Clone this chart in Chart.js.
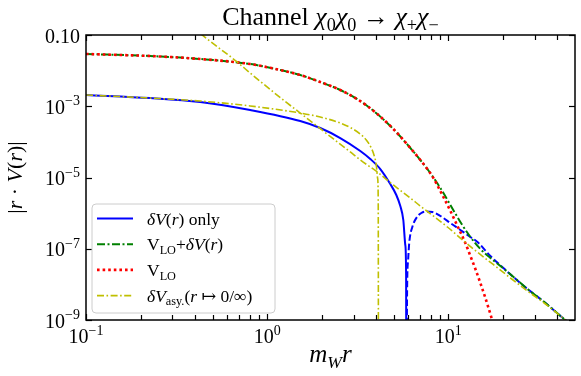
<!DOCTYPE html>
<html><head><meta charset="utf-8">
<script src="https://cdn.jsdelivr.net/npm/chart.js@4.4.1/dist/chart.umd.min.js"></script>
<style>html,body{margin:0;padding:0;background:#fff;}canvas{display:block;}</style>
</head><body>
<canvas id="c" width="581" height="376"></canvas>
<script>
// ---- data (log-log) ----
const dvX = [0.1,0.2258,0.4264,0.8055,1.522,1.963,2.531,3.265,3.707,4.210,4.780,5.161,5.430,5.641,5.786,5.846,5.861];
const dvY = [2.07e-3,1.70e-3,1.32e-3,7.85e-4,3.85e-4,2.45e-4,1.28e-4,5.54e-5,3.31e-5,1.73e-5,6.57e-6,3.23e-6,1.58e-6,6.41e-7,1.27e-7,1.83e-8,1e-12];
const dvNegX = [5.87,5.920,5.996,6.088,6.325,6.656,7.093,7.558,8.161,9.032,10.26,11.65,13.23,14.47,17.06,20.13,22.86,27.32,34.35,41.57,50];
const dvNegY = [1e-12,6.95e-9,4.83e-8,1.55e-7,4.08e-7,7.30e-7,1.01e-6,1.11e-6,1.08e-6,8.31e-7,5.28e-7,3.36e-7,2.14e-7,1.55e-7,6.26e-8,2.88e-8,1.61e-8,7.42e-9,3.00e-9,1.30e-9,5.96e-10];
const totX = [0.1,0.2258,0.4264,0.8055,1.180,1.522,1.963,2.531,3.265,4.052,4.968,6.167,7.655,9.032,10.26,11.65,13.23,15.02,17.06,19.38,22.57,27.32,34.35,41.57,50];
const totY = [2.93e-2,2.57e-2,2.12e-2,1.53e-2,1.04e-2,7.54e-3,4.79e-3,2.86e-3,1.40e-3,6.06e-4,2.30e-4,6.73e-5,1.73e-5,5.07e-6,1.69e-6,5.63e-7,2.14e-7,9.84e-8,5.50e-8,3.28e-8,1.72e-8,7.42e-9,3.00e-9,1.30e-9,5.96e-10];
const loX = [0.1,0.2258,0.4264,0.8055,1.180,1.522,1.963,2.531,3.265,4.052,4.968,6.167,7.655,8.265,9.266,10.26,11.36,12.41,13.23,14.10,15.02,16.01,17.06,18.18];
const loY = [2.93e-2,2.57e-2,2.12e-2,1.53e-2,1.04e-2,7.54e-3,4.79e-3,2.86e-3,1.40e-3,6.06e-4,2.30e-4,6.73e-5,1.73e-5,9.68e-6,3.23e-6,1.15e-6,3.82e-7,1.45e-7,6.26e-8,2.70e-8,1.09e-8,4.14e-9,1.47e-9,4.91e-10];
const asySmallX = [0.1,0.2258,0.4264,0.8055,1.522,1.963,2.531,2.874,3.265,3.524,3.755,3.901,4.001,4.068,4.101,4.115];
const asySmallY = [2.07e-3,1.70e-3,1.40e-3,1.02e-3,6.46e-4,4.99e-4,3.39e-4,2.53e-4,1.66e-4,1.13e-4,6.73e-5,4.01e-5,2.24e-5,9.68e-6,2.34e-6,1e-12];
const asyLargeX = [0.3755,0.4374,0.6828,0.8055,1.226,1.522,2.039,2.874,3.265,4.052,4.968,6.167,7.003,8.265,9.874,11.65,13.75,16.43,19.38,22.00,27.32,34.35,41.57,50];
const asyLargeY = [0.191,0.1,1.75e-2,8.58e-3,1.50e-3,6.46e-4,2.02e-4,5.20e-5,3.10e-5,1.43e-5,6.16e-6,2.66e-6,1.58e-6,8.31e-7,4.08e-7,2.00e-7,9.84e-8,4.83e-8,2.53e-8,1.51e-8,6.52e-9,2.81e-9,1.30e-9,5.96e-10];

// ---- axes / ticks ----
const xRange = [0.1, 50];
const yRange = [1e-9, 0.1];
const xMajorTicks = [0.1, 1, 10];
const xMinorTicks = [0.2,0.3,0.4,0.5,0.6,0.7,0.8,0.9,2,3,4,5,6,7,8,9,20,30,40];
const xTickLabels = [["10","−1"],["10","0"],["10","1"]];
const yMajorTicks = [1e-9, 1e-7, 1e-5, 1e-3, 0.1];
const yTickLabels = [["10","−9"],["10","−7"],["10","−5"],["10","−3"],["0.10",""]];

const COLORS = {dv:'#0000ff', tot:'#008000', lo:'#ff0000', asy:'#bfbf00'};
const FONT = "'Liberation Serif','DejaVu Serif',serif";

const pts = (xs, ys) => xs.map((x, i) => ({x, y: ys[i]}));
const base = {pointRadius:0, fill:false, cubicInterpolationMode:'monotone', borderCapStyle:'butt'};

const dsDv   = {...base, label:'dv', data:pts(dvX,dvY), borderColor:COLORS.dv, borderWidth:2, order:4};
const dsDvN  = {...base, label:'dvneg', data:pts(dvNegX,dvNegY), borderColor:COLORS.dv, borderWidth:2, borderDash:[6.5,2.8], order:4};
const dsTot  = {...base, label:'tot', data:pts(totX,totY), borderColor:COLORS.tot, borderWidth:2, borderDash:[8,2.5,2,2.5], order:3};
const dsLo   = {...base, label:'lo', data:pts(loX,loY), borderColor:COLORS.lo, borderWidth:2.6, borderDash:[2.6,3], order:2};
const dsAsyS = {...base, label:'asyS', data:pts(asySmallX,asySmallY), borderColor:COLORS.asy, borderWidth:1.6, borderDash:[7,2.5,1.6,2.5], order:1};
const dsAsyL = {...base, label:'asyL', data:pts(asyLargeX,asyLargeY), borderColor:COLORS.asy, borderWidth:1.6, borderDash:[7,2.5,1.6,2.5], order:1};

// ---- rich text helper (sub/superscripts, italics) ----
function fnt(it, sz){ return (it ? 'italic ' : '') + sz + 'px ' + FONT; }
function segW(ctx, segs, size){
  let w = 0;
  for (const [t, s] of segs){
    const small = s==='sub'||s==='sup'||s==='isub';
    ctx.font = fnt(s==='i'||s==='isub', small ? size*0.7 : size);
    w += ctx.measureText(t).width;
  }
  return w;
}
function drawRich(ctx, segs, x, y, size, align){
  const w = segW(ctx, segs, size);
  let cx = align==='center' ? x - w/2 : (align==='right' ? x - w : x);
  ctx.textAlign = 'left'; ctx.textBaseline = 'alphabetic';
  for (const [t, s] of segs){
    const small = s==='sub'||s==='sup'||s==='isub';
    ctx.font = fnt(s==='i'||s==='isub', small ? size*0.7 : size);
    let dy = 0;
    if (s==='sub'||s==='isub') dy = size*0.22;
    if (s==='sup') dy = -size*0.42;
    ctx.fillText(t, cx, y + dy);
    cx += ctx.measureText(t).width;
  }
}

const titleSegs = [['Channel ','n'],['χ','i'],['0','sub'],['χ','i'],['0','sub'],[' → ','n'],['χ','i'],['+','sub'],['χ','i'],['−','sub']];
const xLabelSegs = [['m','i'],['W','isub'],['r','i']];
const yLabelSegs = [['|','n'],['r','i'],[' · ','n'],['V','i'],['(','n'],['r','i'],[')','n'],['|','n']];
const legendItems = [
  {ds:dsDv,  segs:[['δ','i'],['V','i'],['(','n'],['r','i'],[')','n'],[' only','n']]},
  {ds:dsTot, segs:[['V','n'],['LO','sub'],['+','n'],['δ','i'],['V','i'],['(','n'],['r','i'],[')','n']]},
  {ds:dsLo,  segs:[['V','n'],['LO','sub']]},
  {ds:dsAsyL,segs:[['δ','i'],['V','i'],['asy.','sub'],['(','n'],['r','i'],[' ↦ 0/∞','n'],[')','n']]}
];

const deco = {
  id:'deco',
  afterDatasetsDraw(chart){
    const ctx = chart.ctx, a = chart.chartArea, xs = chart.scales.x, ys = chart.scales.y;
    ctx.save();
    ctx.fillStyle = '#000'; ctx.strokeStyle = '#000';
    ctx.lineWidth = 1.5;
    ctx.strokeRect(a.left, a.top, a.right - a.left, a.bottom - a.top);
    ctx.lineWidth = 1.2;
    const seg = (x1,y1,x2,y2)=>{ctx.beginPath();ctx.moveTo(x1,y1);ctx.lineTo(x2,y2);ctx.stroke();};
    for (const v of xMajorTicks){ const p = Math.round(xs.getPixelForValue(v))+0.5; seg(p,a.bottom,p,a.bottom-6); seg(p,a.top,p,a.top+6); }
    for (const v of xMinorTicks){ const p = Math.round(xs.getPixelForValue(v))+0.5; seg(p,a.bottom,p,a.bottom-5); seg(p,a.top,p,a.top+5); }
    for (const v of yMajorTicks){ const p = Math.round(ys.getPixelForValue(v))+0.5; seg(a.left,p,a.left+6,p); seg(a.right,p,a.right-6,p); }
    xMajorTicks.forEach((v,i)=>{
      const p = xs.getPixelForValue(v);
      drawRich(ctx, [[xTickLabels[i][0],'n'],[xTickLabels[i][1],'sup']], p, a.bottom + 23, 20, 'center');
    });
    yMajorTicks.forEach((v,i)=>{
      const p = ys.getPixelForValue(v);
      const segs = yTickLabels[i][1] ? [[yTickLabels[i][0],'n'],[yTickLabels[i][1],'sup']] : [[yTickLabels[i][0],'n']];
      drawRich(ctx, segs, a.left - 6, p + 7.5, 20, 'right');
    });
    drawRich(ctx, titleSegs, (a.left + a.right)/2, 25, 26, 'center');
    drawRich(ctx, xLabelSegs, (a.left + a.right)/2, 362, 25, 'center');
    ctx.save();
    ctx.translate(22, (a.top + a.bottom)/2);
    ctx.rotate(-Math.PI/2);
    drawRich(ctx, yLabelSegs, 0, 0, 22, 'center');
    ctx.restore();
    const lx = a.left + 6, ly = 204, lw = 183, lh = 109, r = 4;
    ctx.beginPath();
    ctx.moveTo(lx+r, ly); ctx.lineTo(lx+lw-r, ly); ctx.quadraticCurveTo(lx+lw, ly, lx+lw, ly+r);
    ctx.lineTo(lx+lw, ly+lh-r); ctx.quadraticCurveTo(lx+lw, ly+lh, lx+lw-r, ly+lh);
    ctx.lineTo(lx+r, ly+lh); ctx.quadraticCurveTo(lx, ly+lh, lx, ly+lh-r);
    ctx.lineTo(lx, ly+r); ctx.quadraticCurveTo(lx, ly, lx+r, ly); ctx.closePath();
    ctx.fillStyle = 'rgba(255,255,255,0.8)'; ctx.fill();
    ctx.strokeStyle = '#cccccc'; ctx.lineWidth = 1; ctx.stroke();
    legendItems.forEach((it, i)=>{
      const yy = 218.5 + i*25.7;
      ctx.save();
      ctx.strokeStyle = it.ds.borderColor; ctx.lineWidth = it.ds.borderWidth;
      ctx.setLineDash(it.ds.borderDash || []);
      ctx.beginPath(); ctx.moveTo(lx+5, yy); ctx.lineTo(lx+41, yy); ctx.stroke();
      ctx.restore();
      ctx.fillStyle = '#000';
      drawRich(ctx, it.segs, lx + 55, yy + 6, 17.5, 'left');
    });
    ctx.restore();
  }
};

new Chart(document.getElementById('c'), {
  type:'line',
  data:{datasets:[dsDv, dsDvN, dsTot, dsLo, dsAsyS, dsAsyL]},
  options:{
    responsive:false, animation:false, events:[],
    layout:{padding:{top:35, right:6, left:0, bottom:0}},
    plugins:{legend:{display:false}, tooltip:{enabled:false}, title:{display:false}},
    scales:{
      x:{type:'logarithmic', min:xRange[0], max:xRange[1], grid:{display:false}, border:{display:false},
         ticks:{display:false}, afterFit(s){ s.height = 56; }},
      y:{type:'logarithmic', min:yRange[0], max:yRange[1], grid:{display:false}, border:{display:false},
         ticks:{display:false}, afterFit(s){ s.width = 86; }}
    }
  },
  plugins:[deco]
});
</script>
</body></html>
